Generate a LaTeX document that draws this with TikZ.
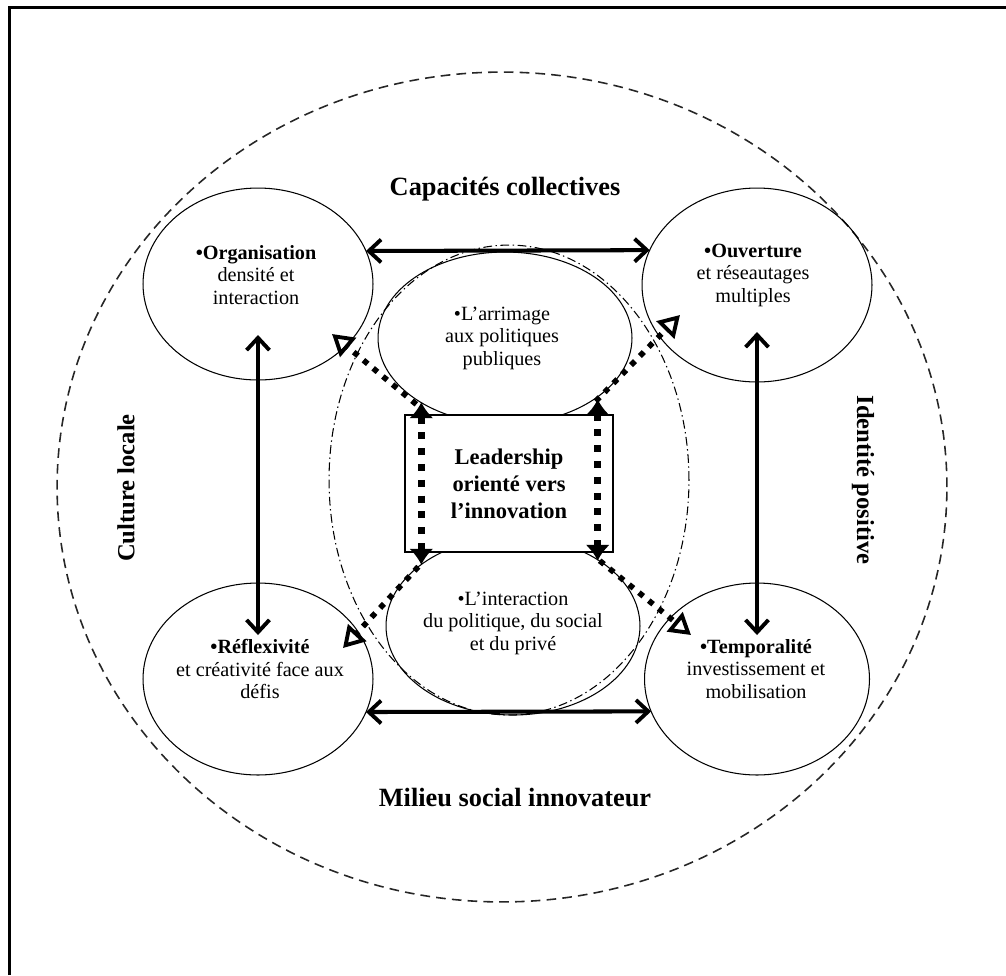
\documentclass[tikz,border=0pt]{standalone}
\usepackage{fontspec}
\setmainfont{Liberation Serif}
\usetikzlibrary{arrows.meta,calc,shapes.geometric}
\begin{document}
\begin{tikzpicture}[x=0.02cm,y=-0.02cm,
 ell/.style={draw,ellipse,line width=0.6pt,inner sep=0pt,outer sep=0pt},
 ctext/.style={align=center,inner sep=0pt,font=\fontsize{11.5}{12.8}\selectfont},
 bigtext/.style={inner sep=0pt,font=\fontsize{15}{17}\selectfont\bfseries},
 sidetext/.style={inner sep=0pt,font=\fontsize{14}{16}\selectfont\bfseries},
 solidarrow/.style={line width=2.3pt,{Straight Barb[length=7pt,width=13pt,line width=2.2pt]}-{Straight Barb[length=7pt,width=13pt,line width=2.2pt]}},
 vdots/.style={line width=4pt,dash pattern=on 4pt off 5pt,{Latex[length=9pt,width=14pt]}-{Latex[length=9pt,width=14pt]}},
 ddots/.style={line width=3.2pt,dash pattern=on 3.2pt off 4pt,-{Triangle[open,length=12pt,width=14pt,line width=2.2pt]}},
 outerdash/.style={draw,ellipse,inner sep=0pt,outer sep=0pt,line width=0.9pt,black!85,dash pattern=on 5.5pt off 3.5pt},
 dashdotted/.style={draw,ellipse,inner sep=0pt,outer sep=0pt,line width=0.6pt,dash pattern=on 5pt off 2pt on 0.8pt off 2pt},
 leadbox/.style={draw,fill=white,line width=0.8pt,inner sep=0pt,align=center,font=\fontsize{12.8}{15.3}\selectfont\bfseries},
]
\useasboundingbox (0,0) rectangle (1006,975);
\draw[line width=1.3pt] (9.5,975) -- (9.5,7.5) -- (1006,7.5);

% enveloping ellipses
\node[outerdash,minimum width=17.8cm,minimum height=16.6cm] (outer) at (502,487) {};
\node[dashdotted,minimum width=7.2cm,minimum height=9.4cm] (dd) at (509,480) {};

% corner ellipses
\node[ell,minimum width=4.6cm,minimum height=3.84cm] (org) at (258,284) {};
\node[ell,minimum width=4.6cm,minimum height=3.88cm] (ouv) at (757,285) {};
\node[ell,minimum width=4.6cm,minimum height=3.84cm] (ref) at (258,679) {};
\node[ell,minimum width=4.5cm,minimum height=3.84cm] (tem) at (757,679) {};

% central ellipses
\node[ell,minimum width=5.08cm,minimum height=3.44cm] (arr) at (505,338) {};
\node[ell,minimum width=5.08cm,minimum height=3.56cm] (int) at (513,626) {};

% leadership box
\node[leadbox,minimum width=4.16cm,minimum height=2.74cm] (lead) at (509,483.5) {Leadership\\orienté vers\\l’innovation};

% solid double arrows
\draw[solidarrow] (org.17.5) -- (ouv.162);
\draw[solidarrow] (ref.-17.5) -- (tem.197.9);
\draw[solidarrow,shorten <=1.02cm,shorten >=0.88cm] (org.center) -- (ref.center);
\draw[solidarrow,shorten <=0.94cm,shorten >=0.88cm] (ouv.center) -- (tem.center);

% dotted arrows
\draw[vdots] ($(lead.north west)+(17,-12)$) -- ($(lead.south west)+(17,12)$);
\draw[vdots] ($(lead.north east)+(-16,-15)$) -- ($(lead.south east)+(-16,8)$);
\draw[ddots] ($(lead.north west)+(12,-10)$) -- ($(org.center)+(74,50)$);
\draw[ddots] ($(lead.north east)+(-18,-13)$) -- ($(ouv.center)+(-77,30)$);
\draw[ddots] ($(lead.south west)+(14,14)$) -- ($(ref.center)+(85,-31)$);
\draw[ddots] ($(lead.south east)+(-14,8)$) -- ($(tem.center)+(-66,-44)$);

% texts
\node[ctext] (orgt) at (256,275) {\textbf{•Organisation}\\densité et\\interaction};
\node[ctext] (ouvt) at (753,275) {\textbf{•Ouverture}\\et réseautages\\multiples};
\node[ctext] (reft) at (260,669) {\textbf{•Réflexivité}\\et créativité face aux\\défis};
\node[ctext] (temt) at (756,669) {\textbf{•Temporalité}\\investissement et\\mobilisation};
\node[ctext] (arrt) at (502,338) {•L’arrimage\\aux politiques\\publiques};
\node[ctext] (intt) at (513,623) {•L’interaction\\du politique, du social\\et du privé};

\node[bigtext] (cap) at (505,189) {Capacités collectives};
\node[bigtext] (mil) at (515,797) {Milieu social innovateur};
\node[sidetext,rotate=90] (cul) at (126,488) {Culture locale};
\node[sidetext,rotate=-90] (ide) at (863,480) {Identité positive};
\end{tikzpicture}
\end{document}
